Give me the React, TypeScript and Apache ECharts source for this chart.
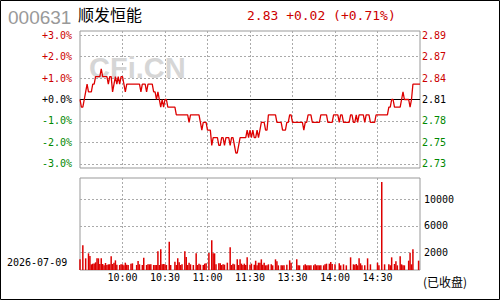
import React, { useEffect, useRef } from 'react';
import * as echarts from 'echarts';

const stockCode = '000631';
const stockName = '顺发恒能';
const quoteText = '2.83 +0.02 (+0.71%)';
const tradeDate = '2026-07-09';
const statusText = '(已收盘)';
const watermark = 'CFi.CN';
const prevClose = 2.81;

// minute prices 9:30..11:30 (121 pts) then 13:01..15:00 (120 pts)
const pricesAM = [
  2.81, 2.80, 2.80, 2.81, 2.82, 2.83, 2.82, 2.82, 2.82, 2.83,
  2.83, 2.84, 2.84, 2.84, 2.84, 2.85, 2.84, 2.84, 2.84, 2.84,
  2.83, 2.84, 2.84, 2.82, 2.83, 2.84, 2.83, 2.84, 2.83, 2.84,
  2.84, 2.83, 2.82, 2.83, 2.83, 2.83, 2.83, 2.83, 2.83, 2.83,
  2.83, 2.83, 2.83, 2.82, 2.83, 2.83, 2.83, 2.82, 2.83, 2.83,
  2.83, 2.83, 2.82, 2.82, 2.81, 2.82, 2.81, 2.80, 2.81, 2.80,
  2.81, 2.81, 2.80, 2.80, 2.80, 2.80, 2.80, 2.80, 2.79, 2.79,
  2.79, 2.79, 2.79, 2.79, 2.79, 2.79, 2.79, 2.78, 2.79, 2.79,
  2.79, 2.79, 2.79, 2.79, 2.79, 2.78, 2.77, 2.78, 2.78, 2.78,
  2.77, 2.77, 2.77, 2.75, 2.76, 2.76, 2.76, 2.76, 2.75, 2.75,
  2.76, 2.76, 2.75, 2.76, 2.76, 2.76, 2.75, 2.76, 2.76, 2.75,
  2.74, 2.74, 2.75, 2.76, 2.76, 2.76, 2.76, 2.76, 2.77, 2.76,
  2.77,
];
const pricesPM = [
  2.76, 2.77, 2.76, 2.76, 2.77, 2.76, 2.77, 2.78, 2.78, 2.78,
  2.77, 2.77, 2.79, 2.79, 2.79, 2.79, 2.79, 2.79, 2.78, 2.78,
  2.78, 2.78, 2.77, 2.77, 2.77, 2.78, 2.78, 2.79, 2.79, 2.78,
  2.78, 2.78, 2.78, 2.78, 2.78, 2.78, 2.78, 2.77, 2.78, 2.78,
  2.79, 2.79, 2.79, 2.78, 2.78, 2.78, 2.78, 2.78, 2.78, 2.79,
  2.79, 2.79, 2.79, 2.79, 2.78, 2.78, 2.78, 2.78, 2.79, 2.79,
  2.79, 2.79, 2.78, 2.79, 2.79, 2.78, 2.78, 2.78, 2.78, 2.78,
  2.79, 2.79, 2.78, 2.78, 2.79, 2.78, 2.79, 2.79, 2.79, 2.79,
  2.78, 2.79, 2.79, 2.79, 2.78, 2.78, 2.78, 2.78, 2.79, 2.79,
  2.79, 2.79, 2.79, 2.79, 2.79, 2.79, 2.79, 2.80, 2.80, 2.81,
  2.81, 2.80, 2.80, 2.80, 2.80, 2.80, 2.81, 2.82, 2.81, 2.81,
  2.81, 2.81, 2.80, 2.81, 2.83, 2.83, 2.83, 2.83, 2.83, 2.83,
];
const volumesAM = [
  1600, 0, 3700, 0, 1750, 0, 2500, 2100, 850, 950,
  980, 1150, 1750, 1750, 900, 1750, 900, 700, 1050, 750,
  850, 850, 2050, 900, 1100, 1450, 800, 0, 750, 850,
  850, 700, 1100, 800, 750, 0, 950, 1000, 0, 0,
  750, 1350, 850, 0, 750, 1850, 0, 750, 850, 850,
  850, 0, 750, 750, 750, 2800, 750, 3100, 850, 900,
  850, 750, 0, 4250, 750, 0, 0, 1250, 750, 1750,
  1150, 750, 850, 0, 2800, 1950, 750, 1100, 850, 0,
  750, 0, 2500, 750, 950, 800, 0, 750, 950, 1000,
  0, 2550, 0, 4450, 2500, 2500, 850, 0, 1000, 1000,
  750, 850, 800, 0, 1100, 0, 3400, 750, 950, 850,
  0, 1600, 750, 1600, 950, 750, 950, 750, 1900, 0,
  800,
];
const volumesPM = [
  950, 0, 800, 1400, 700, 1100, 1100, 1600, 800, 1100,
  700, 700, 850, 0, 850, 700, 0, 1600, 1300, 700,
  0, 700, 700, 700, 0, 800, 0, 1450, 1100, 0,
  0, 0, 1600, 700, 700, 0, 0, 700, 850, 700,
  700, 700, 700, 0, 700, 850, 700, 700, 700, 700,
  0, 700, 850, 950, 0, 950, 1200, 900, 0, 850,
  0, 0, 1000, 700, 0, 850, 0, 700, 0, 0,
  1900, 0, 850, 800, 900, 700, 1750, 1000, 700, 0,
  700, 0, 1750, 0, 850, 0, 0, 0, 0, 1100,
  700, 0, 13200, 0, 850, 0, 0, 850, 700, 1900,
  0, 900, 1300, 700, 0, 2050, 850, 700, 700, 0,
  0, 1400, 2600, 850, 3100, 0, 0, 0, 1400, 0,
];
const timeTicks = ['10:00', '10:30', '11:00', '11:30', '13:30', '14:00', '14:30'];
const volumeTicks = [2000, 6000, 10000];

const prices = [...pricesAM, ...pricesPM];
const volumes = [...volumesAM, ...volumesPM];
const times = prices.map((_, i) => {
  const m = i <= 120 ? 570 + i : 780 + (i - 120);
  return `${Math.floor(m / 60)}:${String(m % 60).padStart(2, '0')}`;
});
const pct = prices.map((p) => +(((p - prevClose) / prevClose) * 100).toFixed(4));

const RED = '#cc0000';
const GREEN = '#008800';
const LINE_RED = '#dd0000';
const MONO = 'DejaVu Sans Mono';
const GRIDC = '#aaaaaa';

const splitEvery30 = (idx: number) => idx % 30 === 0 && idx > 0 && idx < 240;

export default function App() {
  const ref = useRef<HTMLDivElement>(null);
  useEffect(() => {
    const chart = echarts.init(ref.current!, null, { renderer: 'svg' });
    const option: any = {
      animation: false,
      backgroundColor: '#ffffff',
      grid: [
        { left: 80, width: 340, top: 31, height: 137, show: true, borderColor: '#999', borderWidth: 1, backgroundColor: 'transparent' },
        { left: 80, width: 340, top: 178, height: 92, show: true, borderColor: '#999', borderWidth: 1, backgroundColor: 'transparent' },
        { left: 80, width: 340, top: 172.8, height: 106, show: false },
      ],
      xAxis: [
        {
          type: 'category', gridIndex: 0, data: times, boundaryGap: false,
          axisLine: { show: false }, axisTick: { show: false }, axisLabel: { show: false },
          splitLine: { show: true, interval: splitEvery30, lineStyle: { color: GRIDC, type: [2, 2], width: 1 } },
        },
        {
          type: 'category', gridIndex: 1, data: times, boundaryGap: false,
          axisLine: { show: false }, axisTick: { show: false },
          axisLabel: {
            show: true, interval: (idx: number, val: string) => timeTicks.includes(val),
            fontFamily: MONO, fontSize: 10, color: '#000', margin: 2,
          },
          splitLine: { show: true, interval: splitEvery30, lineStyle: { color: GRIDC, type: [2, 2], width: 1 } },
        },
        { type: 'category', gridIndex: 2, data: times, show: false },
      ],
      yAxis: [
        {
          type: 'value', gridIndex: 0, min: -3.19, max: 3.19, splitNumber: 6, position: 'left',
          axisLine: { show: false }, axisTick: { show: false },
          axisLabel: {
            showMinLabel: false, showMaxLabel: false, margin: 8, fontFamily: MONO, fontSize: 10,
            formatter: (v: number) => (v >= 0 ? '+' : '') + v.toFixed(1) + '%',
            color: (v: any) => (+v > 0.001 ? RED : +v < -0.001 ? GREEN : '#000'),
          },
          splitLine: { show: true, showMinLine: false, showMaxLine: false, lineStyle: { color: GRIDC, type: [2, 2], width: 1 } },
        },
        {
          type: 'value', gridIndex: 0, min: -3.19, max: 3.19, splitNumber: 6, position: 'right',
          axisLine: { show: false }, axisTick: { show: false },
          axisLabel: {
            showMinLabel: false, showMaxLabel: false, margin: 2, fontFamily: MONO, fontSize: 10,
            formatter: (v: number) => (prevClose * (1 + v / 100)).toFixed(2),
            color: (v: any) => (+v > 0.001 ? RED : +v < -0.001 ? GREEN : '#000'),
          },
          splitLine: { show: false },
        },
        { type: 'value', gridIndex: 1, min: 0, max: 13800, show: false, splitLine: { show: false } },
        {
          type: 'value', gridIndex: 2, min: -2000, max: 14000, interval: 4000, position: 'right',
          axisLine: { show: false }, axisTick: { show: false },
          axisLabel: {
            showMinLabel: false, showMaxLabel: false, margin: 4, fontFamily: MONO, fontSize: 10, color: '#000',
            formatter: (v: number) => (volumeTicks.includes(v) ? String(v) : ''),
          },
          splitLine: { show: true, showMinLine: false, showMaxLine: false, lineStyle: { color: GRIDC, type: [2, 2], width: 1 } },
        },
      ],
      series: [
        {
          type: 'line', xAxisIndex: 0, yAxisIndex: 0, data: pct, showSymbol: false, symbol: 'none',
          lineStyle: { color: LINE_RED, width: 1.3 }, z: 5,
          markLine: {
            silent: true, symbol: 'none', label: { show: false }, z: 4,
            lineStyle: { color: '#000', type: 'solid', width: 1 },
            data: [{ yAxis: 0 }],
          },
        },
        {
          type: 'bar', xAxisIndex: 1, yAxisIndex: 2, data: volumes, barWidth: 1.5,
          itemStyle: { color: LINE_RED },
        },
      ],
      graphic: [
        { type: 'rect', shape: { x: 0.5, y: 0.5, width: 499, height: 299 }, style: { fill: 'none', stroke: '#000', lineWidth: 1 }, z: 10 },
        { type: 'text', x: 89, y: 53, z: 1, style: { text: watermark, fontFamily: 'Liberation Sans', fontWeight: 'bold', fontSize: 29, fill: '#d6d6d6' } },
        { type: 'text', x: 8, y: 17, style: { text: stockCode, fontFamily: 'Liberation Sans', fontSize: 19, fill: '#999', verticalAlign: 'middle' } },
        { type: 'text', x: 78, y: 14, style: { text: stockName, fontFamily: 'Noto Sans CJK SC', fontSize: 16, fill: '#000', verticalAlign: 'middle' } },
        { type: 'text', x: 247, y: 15, style: { text: quoteText, fontFamily: MONO, fontSize: 13, fill: RED, verticalAlign: 'middle' } },
        { type: 'text', x: 7, y: 262, style: { text: tradeDate, fontFamily: MONO, fontSize: 10, fill: '#000', verticalAlign: 'middle' } },
        { type: 'text', x: 423, y: 281, style: { text: statusText, fontFamily: 'Noto Sans CJK SC', fontSize: 12, fill: '#000', verticalAlign: 'middle' } },
      ],
    };
    chart.setOption(option);
    return () => chart.dispose();
  }, []);
  return (
    <div
      ref={ref}
      style={{ position: 'fixed', left: 0, top: 0, width: 500, height: 300, background: '#fff' }}
    />
  );
}
